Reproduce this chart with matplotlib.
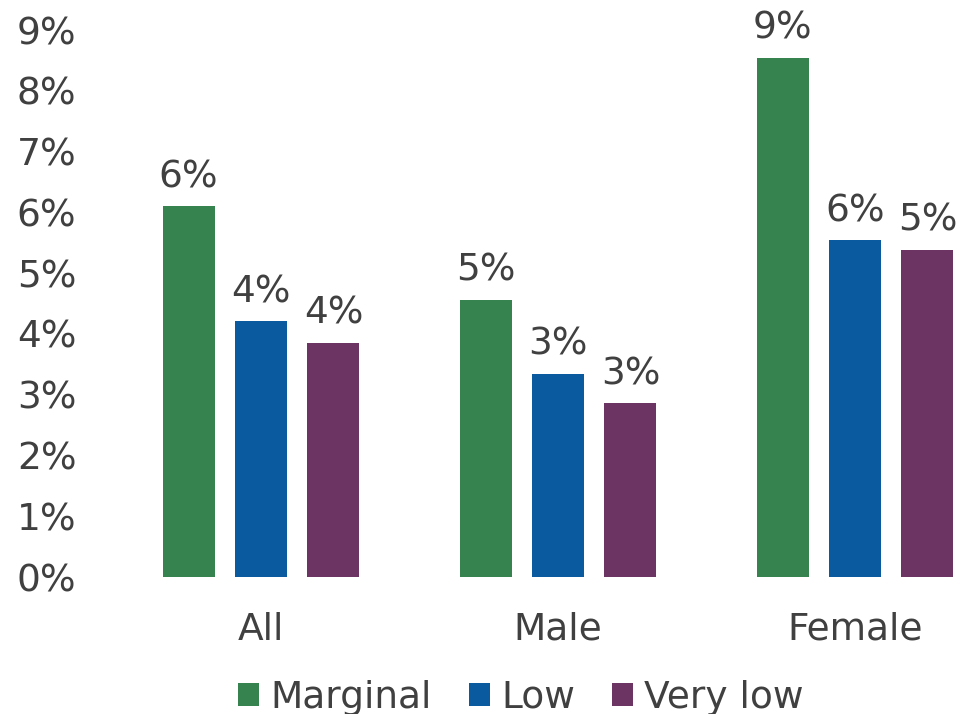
import numpy as np
import matplotlib
matplotlib.use("Agg")
import matplotlib.pyplot as plt

# Share of each group by level, in percent
groups = ["All", "Male", "Female"]
levels = ["Marginal", "Low", "Very low"]
marginal = [6.10, 4.56, 8.54]
low = [4.21, 3.34, 5.54]
very_low = [3.85, 2.86, 5.38]
yticks = [0, 1, 2, 3, 4, 5, 6, 7, 8, 9]

colors = ["#37834F", "#0A5AA0", "#6C3462"]
text_color = "#404040"
fs = 27

plt.rcParams["font.family"] = ["DejaVu Sans"]

fig = plt.figure(figsize=(9.61, 7.14), dpi=100)
ax = fig.add_axes([100 / 961, 137 / 714, 861 / 961, 559 / 714])

x = np.arange(len(groups))
width = 0.175
step = 0.244

for i, (vals, name) in enumerate(zip([marginal, low, very_low], levels)):
    pos = x + (i - 1) * step
    bars = ax.bar(pos, vals, width, color=colors[i], label=name)
    for b, v in zip(bars, vals):
        ax.annotate(f"{v:.0f}%", (b.get_x() + b.get_width() / 2, v),
                    xytext=(0, 8), textcoords="offset points",
                    ha="center", va="bottom", fontsize=fs, color=text_color)

ax.set_xlim((100 - 261) / 297, (961 - 261) / 297)
ax.set_ylim(0, 9.2)
ax.set_yticks(yticks)
ax.set_yticklabels([f"{t}%" for t in yticks])
ax.set_xticks(x)
ax.set_xticklabels(groups)
ax.tick_params(axis="y", length=0, pad=17, labelsize=fs, labelcolor=text_color)
ax.tick_params(axis="x", length=0, pad=25, labelsize=fs, labelcolor=text_color)
for s in ax.spines.values():
    s.set_visible(False)

fig.legend(loc="center", bbox_to_anchor=(521 / 961, 16 / 714), ncol=3,
           frameon=False, fontsize=fs, labelcolor=text_color,
           handlelength=0.55, handleheight=0.55, handletextpad=0.3,
           columnspacing=1.0)

fig.savefig("out.png", dpi=100)
